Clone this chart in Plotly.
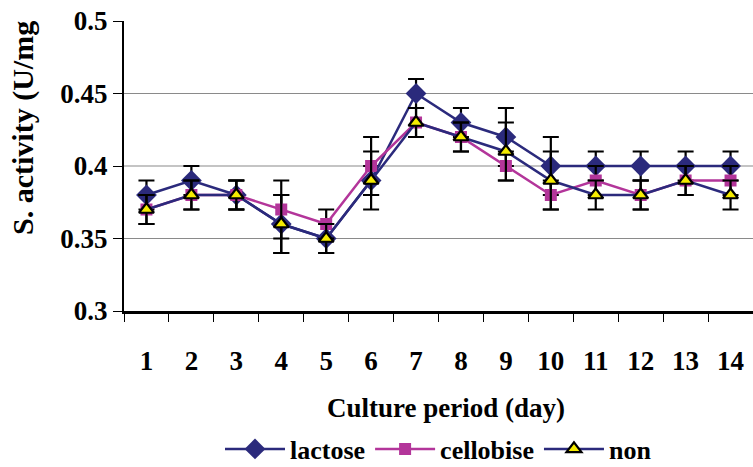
import plotly.graph_objects as go

days = [str(d) for d in range(1, 15)]
lactose = [0.38, 0.39, 0.38, 0.36, 0.35, 0.39, 0.45, 0.43, 0.42, 0.40, 0.40, 0.40, 0.40, 0.40]
lactose_err = [0.01, 0.01, 0.01, 0.02, 0.01, 0.01, 0.01, 0.01, 0.02, 0.02, 0.01, 0.01, 0.01, 0.01]
cellobise = [0.37, 0.38, 0.38, 0.37, 0.36, 0.40, 0.43, 0.42, 0.40, 0.38, 0.39, 0.38, 0.39, 0.39]
cellobise_err = [0.01, 0.01, 0.01, 0.02, 0.01, 0.02, 0.01, 0.01, 0.01, 0.01, 0.01, 0.01, 0.01, 0.01]
non = [0.37, 0.38, 0.38, 0.36, 0.35, 0.39, 0.43, 0.42, 0.41, 0.39, 0.38, 0.38, 0.39, 0.38]
non_err = [0.01, 0.01, 0.01, 0.02, 0.01, 0.02, 0.01, 0.01, 0.02, 0.02, 0.01, 0.01, 0.01, 0.01]
y_ticks = [0.3, 0.35, 0.4, 0.45, 0.5]
y_labels = ["0.3", "0.35", "0.4", "0.45", "0.5"]
grid_vals = [0.35, 0.4, 0.45]

NAVY = "#2B2A7C"
MAG = "#B3359A"
FONT = "Liberation Serif, Times New Roman, serif"

def err(a):
    return dict(type="data", array=a, visible=True, color="black", thickness=2.2, width=8)

fig = go.Figure()
fig.add_trace(go.Scatter(x=days, y=lactose, name="lactose", mode="lines+markers",
                         line=dict(color=NAVY, width=2.5),
                         marker=dict(symbol="diamond", size=16, color=NAVY),
                         error_y=err(lactose_err)))
fig.add_trace(go.Scatter(x=days, y=cellobise, name="cellobise", mode="lines+markers",
                         line=dict(color=MAG, width=2.5),
                         marker=dict(symbol="square", size=12, color=MAG),
                         error_y=err(cellobise_err)))
fig.add_trace(go.Scatter(x=days, y=non, name="non", mode="lines+markers",
                         line=dict(color=NAVY, width=2.5),
                         marker=dict(symbol="triangle-up", size=13, color="#F5EB00",
                                     line=dict(color="black", width=2.2)),
                         error_y=err(non_err)))

for g in grid_vals:
    fig.add_shape(type="line", xref="paper", x0=0, x1=1, yref="y", y0=g, y1=g,
                  line=dict(color="#8A8A8A", width=1.2), layer="below")

fig.update_layout(
    width=753, height=467,
    margin=dict(l=124, r=0, t=21, b=156, autoexpand=False),
    paper_bgcolor="white", plot_bgcolor="white",
    font=dict(family=FONT, color="black"),
    showlegend=True,
    legend=dict(orientation="h", x=0.5, xanchor="center",
                yref="container", y=(467 - 449) / 467, yanchor="middle",
                font=dict(family=FONT, size=26, color="black", weight="bold"),
                itemwidth=60, tracegroupgap=0),
    xaxis=dict(type="category", range=[-0.5, 13.5], tickson="boundaries", ticks="outside",
               ticklen=8, tickwidth=1.2, tickcolor="black", showline=True,
               linecolor="black", linewidth=2.5, showgrid=False, automargin=False,
               tickfont=dict(family=FONT, size=27, color="black", weight="bold"),
               ticklabelstandoff=24),
    yaxis=dict(range=[0.3, 0.5], tickvals=y_ticks, ticktext=y_labels, ticks="outside",
               ticklen=9, tickwidth=1.2, tickcolor="black", showline=True,
               linecolor="black", linewidth=2.2, showgrid=False, zeroline=False,
               automargin=False, ticksuffix="\u00a0\u00a0",
               tickfont=dict(family=FONT, size=27, color="black", weight="bold")),
)

fig.add_annotation(text="<b>Culture period (day)</b>", xref="paper", yref="paper",
                   x=(446 - 124) / 629, y=-(408 - 311) / 290, showarrow=False,
                   font=dict(family=FONT, size=27, color="black"),
                   xanchor="center", yanchor="middle")
fig.add_annotation(text="<b>S. activity (U/mg</b>", xref="paper", yref="paper",
                   x=-(124 - 23) / 629, y=(311 - 128) / 290, showarrow=False,
                   textangle=-90, font=dict(family=FONT, size=30, color="black"),
                   xanchor="center", yanchor="middle")

fig.write_html("out.html")
